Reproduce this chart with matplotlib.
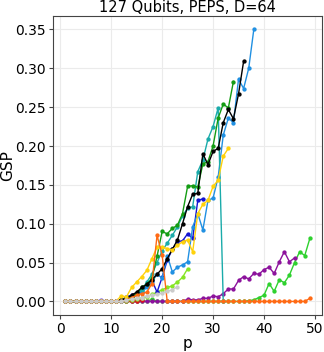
import matplotlib
matplotlib.use("Agg")
import matplotlib.pyplot as plt
import numpy as np

# GSP against p, one list per run, values start at p = 1
gsp_green2 = [0, 0, 0, 0, 0, 0, 0, 0, 0, 0, 0, 0, 0, 0, 0, 0, 0, 0.003, 0, 0,
              0, 0, 0, 0, 0, 0, 0, 0, 0, 0, 0, 0, 0, 0, 0, 0, 0.001, 0.002, 0.005, 0.008,
              0.023, 0.013, 0.028, 0.024, 0.034, 0.05, 0.064, 0.059, 0.081]
gsp_purple = [0, 0, 0, 0, 0, 0, 0, 0, 0, 0, 0, 0, 0, 0, 0, 0, 0, 0, 0, 0,
              0, 0, 0, 0, 0.003, 0.002, 0.002, 0.004, 0.004, 0.007, 0.006, 0.01, 0.016, 0.016, 0.027, 0.032, 0.029, 0.036, 0.035, 0.041,
              0.044, 0.036, 0.051, 0.064, 0.051, 0.056]
gsp_red = [0, 0, 0, 0, 0, 0, 0, 0, 0, 0, 0, 0, 0, 0, 0.001, 0.002]
gsp_violet = [0, 0, 0, 0, 0, 0, 0, 0.002, 0, 0]
gsp_lime = [0, 0, 0, 0, 0, 0, 0, 0, 0, 0, 0, 0, 0, 0.002, 0.003, 0.005, 0.006, 0.009, 0.012, 0.015,
            0.018, 0.02, 0.025, 0.031, 0.042]
gsp_blue = [0, 0, 0, 0, 0, 0, 0, 0, 0, 0, 0, 0.002, 0.006, 0.008, 0.01, 0.012, 0.02, 0.027, 0.012, 0.031,
            0.053, 0.067, 0.077, 0.078, 0.087, 0.081, 0.13, 0.132]
gsp_lightblue = [0, 0, 0, 0, 0, 0, 0, 0, 0, 0, 0, 0, 0.002, 0.005, 0.008, 0.012, 0.018, 0.025, 0.035, 0.03,
                 0.059, 0.038, 0.044, 0.047, 0.051, 0.096, 0.113, 0.092, 0.13, 0.133, 0.16, 0.214, 0.236, 0.23, 0.286, 0.274, 0.30, 0.35]
gsp_teal = [0, 0, 0, 0, 0, 0, 0, 0, 0, 0, 0, 0, 0.003, 0.006, 0.01, 0.015, 0.025, 0.035, 0.05, 0.065,
            0.075, 0.085, 0.096, 0.11, 0.12, 0.122, 0.167, 0.182, 0.209, 0.225, 0.249, 0.0]
gsp_green = [0, 0, 0, 0, 0, 0, 0, 0, 0, 0, 0, 0.002, 0.004, 0.006, 0.01, 0.018, 0.022, 0.03, 0.058, 0.09,
             0.087, 0.094, 0.098, 0.113, 0.148, 0.149, 0.147, 0.177, 0.18, 0.2, 0.236, 0.254, 0.249, 0.283]
gsp_black = [0, 0, 0, 0, 0, 0, 0, 0, 0, 0, 0, 0.002, 0.004, 0.008, 0.012, 0.018, 0.022, 0.028, 0.035, 0.042,
             0.055, 0.067, 0.079, 0.1, 0.122, 0.138, 0.139, 0.19, 0.176, 0.193, 0.197, 0.23, 0.247, 0.235, 0.267, 0.309]
gsp_yellow = [0, 0, 0, 0, 0, 0, 0, 0, 0, 0, 0.001, 0.007, 0.006, 0.018, 0.025, 0.032, 0.04, 0.055, 0.07, 0.07,
              0.068, 0.066, 0.072, 0.077, 0.079, 0.064, 0.113, 0.125, 0.13, 0.148, 0.156, 0.187, 0.197]
gsp_orange = [0, 0, 0, 0, 0, 0, 0, 0, 0, 0, 0, 0, 0.002, 0.005, 0.008, 0.01, 0.012, 0.023, 0.085, 0.06,
              0, 0, 0, 0, 0, 0, 0, 0, 0, 0, 0, 0, 0, 0, 0, 0, 0, 0, 0, 0,
              0, 0, 0, 0, 0, 0, 0, 0, 0.004]
gsp_gray = [0, 0, 0, 0, 0, 0, 0, 0, 0, 0, 0, 0, 0.002, 0.003, 0.004, 0.005, 0.007, 0.008, 0.009, 0.011,
            0.013, 0.015, 0.019]

runs = [
    (gsp_green2, '#2ed12e'),
    (gsp_purple, '#8c129c'),
    (gsp_red, '#e01515'),
    (gsp_violet, '#7a5ce6'),
    (gsp_lime, '#86e524'),
    (gsp_blue, '#1414d2'),
    (gsp_lightblue, '#2090e2'),
    (gsp_teal, '#1aabaa'),
    (gsp_green, '#139c13'),
    (gsp_black, '#000000'),
    (gsp_yellow, '#ffd20a'),
    (gsp_orange, '#ff6a14'),
    (gsp_gray, '#cbcbcb'),
]

fig = plt.figure(figsize=(3.24, 3.52), dpi=100)
ax = fig.add_axes([0.164, 0.105, 0.83, 0.85])

for vals, col in runs:
    p = np.arange(1, len(vals) + 1)
    ax.plot(p, vals, '-o', color=col, lw=1.0, ms=2.1)

ax.set_title('127 Qubits, PEPS, D=64', fontsize=10.5, pad=3)
ax.set_xlabel('p', fontsize=11, labelpad=0)
ax.set_ylabel('GSP', fontsize=11, labelpad=0)
ax.set_xticks([0, 10, 20, 30, 40, 50])
ax.set_yticks([0.0, 0.05, 0.10, 0.15, 0.20, 0.25, 0.30, 0.35])
ax.set_yticklabels(['0.00', '0.05', '0.10', '0.15', '0.20', '0.25', '0.30', '0.35'])
ax.tick_params(labelsize=10, length=3, pad=2, color='#444444')
ax.grid(color='#ebebeb', lw=0.8)
ax.set_axisbelow(True)
for s in ax.spines.values():
    s.set_color('#444444')

plt.savefig('out.png', dpi=100)
